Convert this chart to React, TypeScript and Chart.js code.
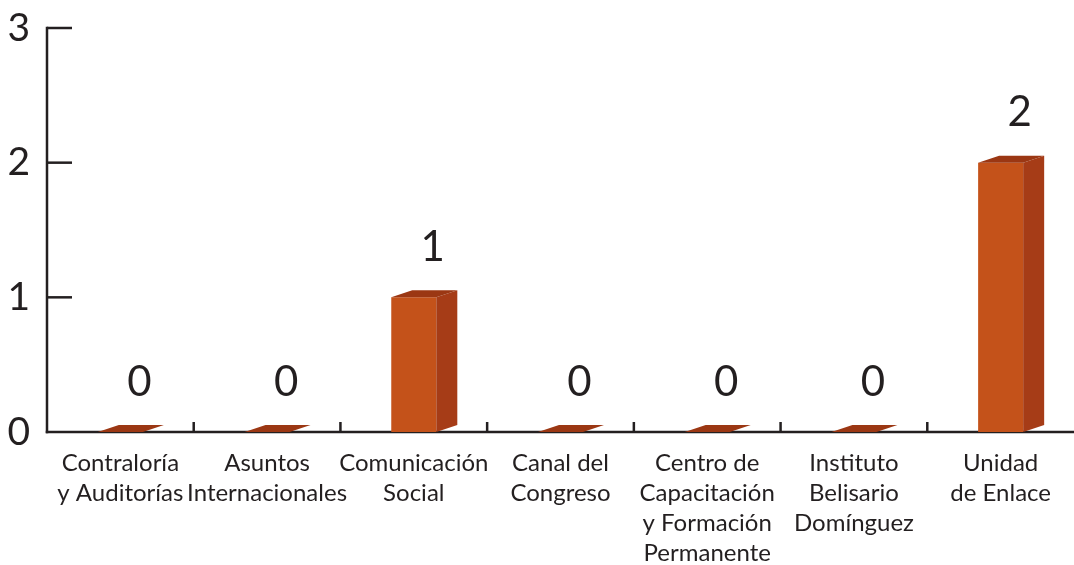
import React, { useEffect, useRef } from "react";
import { Chart, registerables } from "chart.js";

Chart.register(...registerables);

const categories: string[][] = [
  ["Contraloría", "y Auditorías"],
  ["Asuntos", "Internacionales"],
  ["Comunicación", "Social"],
  ["Canal del", "Congreso"],
  ["Centro de", "Capacitación", "y Formación", "Permanente"],
  ["Instituto", "Belisario", "Domínguez"],
  ["Unidad", "de Enlace"],
];
const values: number[] = [0, 0, 1, 0, 0, 0, 2];
const yTicks: number[] = [0, 1, 2, 3];

const FRONT = "#c4521a";
const SIDE = "#a63c17";
const TOP = "#9b3713";
const AXIS = "#231f20";
const FONT = "Lato, 'Open Sans', sans-serif";
const DX = 21;
const DY = 7;

const bar3d = {
  id: "bar3d",
  beforeDatasetsDraw(chart: any) {
    const { ctx, chartArea } = chart;
    const xs = chart.scales.x;
    const ys = chart.scales.y;
    ctx.save();
    ctx.strokeStyle = AXIS;
    ctx.lineWidth = 2.5;
    ctx.lineCap = "butt";
    ctx.beginPath();
    ctx.moveTo(chartArea.left, ys.getPixelForValue(yTicks[yTicks.length - 1]) - 1.25);
    ctx.lineTo(chartArea.left, chartArea.bottom + 1.25);
    ctx.stroke();
    yTicks.forEach((t) => {
      if (t === 0) return;
      const py = ys.getPixelForValue(t);
      ctx.beginPath();
      ctx.moveTo(chartArea.left, py);
      ctx.lineTo(chartArea.left + 25, py);
      ctx.stroke();
    });
    ctx.beginPath();
    ctx.moveTo(chartArea.left - 1.25, chartArea.bottom);
    ctx.lineTo(chartArea.right, chartArea.bottom);
    ctx.stroke();
    const n = categories.length;
    for (let i = 1; i < n; i++) {
      const px = (xs.getPixelForValue(i - 1) + xs.getPixelForValue(i)) / 2;
      ctx.beginPath();
      ctx.moveTo(px, chartArea.bottom);
      ctx.lineTo(px, chartArea.bottom - 10);
      ctx.stroke();
    }
    ctx.restore();
  },
  afterDatasetsDraw(chart: any) {
    const { ctx } = chart;
    const meta = chart.getDatasetMeta(0);
    ctx.save();
    meta.data.forEach((el: any, i: number) => {
      const { x, y, base, width } = el.getProps(["x", "y", "base", "width"], true);
      const l = x - width / 2;
      const r = x + width / 2;
      if (base - y > 0.5) {
        ctx.fillStyle = SIDE;
        ctx.beginPath();
        ctx.moveTo(r, y);
        ctx.lineTo(r + DX, y - DY);
        ctx.lineTo(r + DX, base - DY);
        ctx.lineTo(r, base);
        ctx.closePath();
        ctx.fill();
      }
      ctx.fillStyle = TOP;
      ctx.beginPath();
      ctx.moveTo(l, y);
      ctx.lineTo(l + DX, y - DY);
      ctx.lineTo(r + DX, y - DY);
      ctx.lineTo(r, y);
      ctx.closePath();
      ctx.fill();
      ctx.fillStyle = AXIS;
      ctx.font = `42px ${FONT}`;
      ctx.textAlign = "center";
      ctx.textBaseline = "middle";
      ctx.fillText(String(values[i]), x + 19, y - 50);
    });
    ctx.restore();
  },
};

export default function App() {
  const ref = useRef<HTMLCanvasElement | null>(null);
  useEffect(() => {
    document.body.style.margin = "0";
    const canvas = ref.current;
    if (!canvas) return;
    const chart = new Chart(canvas, {
      type: "bar",
      data: {
        labels: categories,
        datasets: [
          {
            data: values,
            backgroundColor: FRONT,
            borderWidth: 0,
            barPercentage: 0.307,
            categoryPercentage: 1,
          },
        ],
      },
      options: {
        animation: false,
        responsive: false,
        maintainAspectRatio: false,
        layout: { padding: { top: 28, right: 0, left: 0, bottom: 0 } },
        plugins: {
          legend: { display: false },
          tooltip: { enabled: false },
        },
        scales: {
          x: {
            offset: true,
            grid: { display: false, drawTicks: false },
            border: { display: false },
            ticks: {
              color: AXIS,
              font: { family: FONT, size: 24, lineHeight: 1.25 } as any,
              padding: 16,
              maxRotation: 0,
              minRotation: 0,
              autoSkip: false,
            },
            afterFit(scale: any) {
              scale.height = 133;
              scale.paddingLeft = 0;
              scale.paddingRight = 0;
            },
          },
          y: {
            min: 0,
            max: 3,
            grid: { display: false, drawTicks: false },
            border: { display: false },
            ticks: {
              stepSize: 1,
              color: AXIS,
              font: { family: FONT, size: 39 },
              padding: 17,
            },
            afterFit(scale: any) {
              scale.width = 47;
              scale.paddingTop = 0;
              scale.paddingBottom = 0;
            },
          },
        },
      },
      plugins: [bar3d],
    });
    return () => chart.destroy();
  }, []);
  return (
    <div style={{ width: 1074, height: 565 }}>
      <canvas ref={ref} width={1074} height={565} style={{ display: "block" }} />
    </div>
  );
}
